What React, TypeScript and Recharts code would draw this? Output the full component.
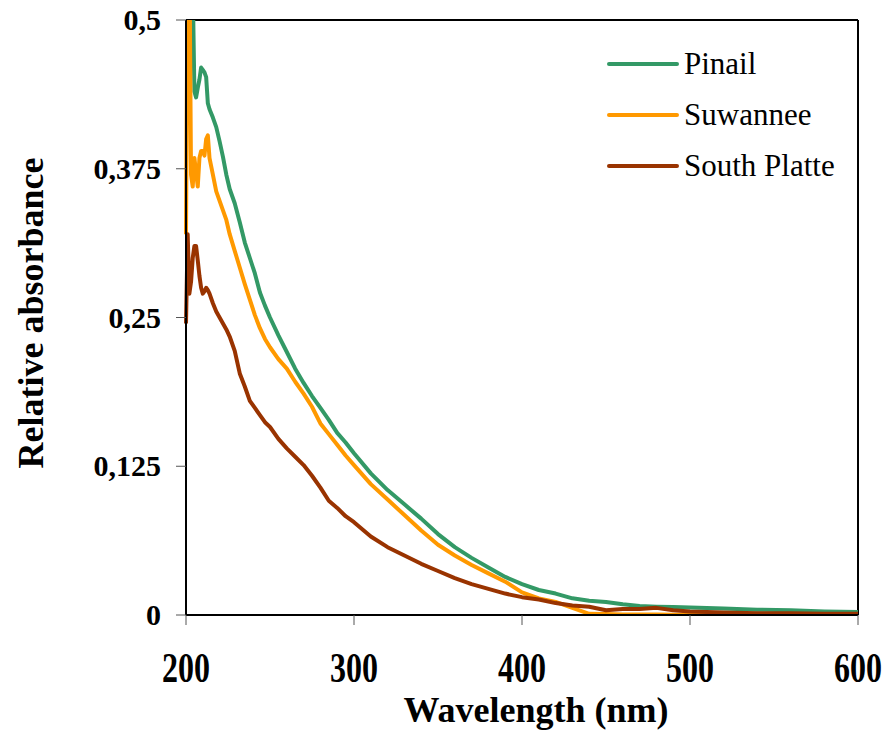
import { LineChart, Line, XAxis, YAxis, ReferenceLine } from 'recharts';

const wavelengths = [
  200, 201, 202, 203, 204, 205, 206, 207, 208, 209, 210, 211, 212, 213, 214, 216, 218, 220, 222, 224, 226, 229,
  232, 235, 238, 241, 244, 247, 250, 255, 260, 265, 270, 275, 280, 285, 290, 295, 300, 310, 320, 330, 340, 350,
  360, 370, 380, 390, 400, 410, 420, 430, 440, 450, 460, 470, 480, 490, 500, 520, 540, 560, 580, 600,
];

const pinail = [
  0.56, 0.56, 0.55, 0.55, 0.53, 0.44, 0.435, 0.443, 0.45, 0.46, 0.458, 0.456, 0.452, 0.43, 0.425, 0.418, 0.41, 0.398,
  0.385, 0.37, 0.358, 0.346, 0.33, 0.313, 0.3, 0.287, 0.271, 0.26, 0.25, 0.235, 0.221, 0.207, 0.195, 0.184, 0.174,
  0.164, 0.153, 0.145, 0.136, 0.119, 0.105, 0.093, 0.081, 0.068, 0.057, 0.048, 0.04, 0.032, 0.026, 0.021, 0.018,
  0.014, 0.012, 0.011, 0.009, 0.0076, 0.007, 0.0067, 0.0063, 0.0055, 0.0045, 0.004, 0.003, 0.0025,
];

const suwannee = [
  0.32, 0.56, 0.56, 0.37, 0.36, 0.384, 0.372, 0.36, 0.384, 0.39, 0.39, 0.386, 0.4, 0.403, 0.384, 0.37, 0.356, 0.348,
  0.34, 0.332, 0.32, 0.306, 0.292, 0.278, 0.265, 0.252, 0.241, 0.232, 0.225, 0.215, 0.207, 0.196, 0.186, 0.175, 0.161,
  0.152, 0.143, 0.134, 0.126, 0.11, 0.097, 0.084, 0.071, 0.059, 0.05, 0.042, 0.035, 0.028, 0.019, 0.014, 0.011, 0.006,
  0.001, 0.0008, 0.0005, 0.0005, 0.0004, 0.0003, 0.0003, 0.0002, 0.0002, 0.0002, 0.0001, 0.0001,
];

const southPlatte = [
  0.245, 0.32, 0.27, 0.28, 0.3, 0.31, 0.31, 0.298, 0.285, 0.275, 0.27, 0.272, 0.275, 0.273, 0.27, 0.262, 0.255, 0.25,
  0.245, 0.24, 0.234, 0.222, 0.203, 0.192, 0.18, 0.174, 0.168, 0.162, 0.158, 0.148, 0.14, 0.133, 0.126, 0.117, 0.107,
  0.096, 0.09, 0.083, 0.078, 0.066, 0.057, 0.05, 0.043, 0.037, 0.031, 0.026, 0.022, 0.018, 0.015, 0.013, 0.01, 0.008,
  0.007, 0.004, 0.005, 0.005, 0.006, 0.004, 0.003, 0.002, 0.0015, 0.0015, 0.001, 0.001,
];

const xTicks = [200, 300, 400, 500, 600];
const yTicks = [0, 0.125, 0.25, 0.375, 0.5];

const seriesInfo = [
  { key: 'pinail', name: 'Pinail', color: '#339966' },
  { key: 'suwannee', name: 'Suwannee', color: '#FF9900' },
  { key: 'southPlatte', name: 'South Platte', color: '#993300' },
];

const data = wavelengths.map((w, i) => ({
  w,
  pinail: pinail[i],
  suwannee: suwannee[i],
  southPlatte: southPlatte[i],
}));

const serif = '"Liberation Serif", "Times New Roman", serif';

function XTick({ x, payload }: any) {
  return (
    <g transform={`translate(${x},682) scale(1,1.35)`}>
      <text x={0} y={0} textAnchor="middle" fontFamily={serif} fontWeight="bold" fontSize={32} fill="#000">
        {payload.value}
      </text>
    </g>
  );
}

function YTick({ y, payload }: any) {
  return (
    <text x={161} y={y} dy={10} textAnchor="end" fontFamily={serif} fontWeight="bold" fontSize={30} fill="#000">
      {String(payload.value).replace('.', ',')}
    </text>
  );
}

// legend drawn over the chart, Excel style
function LegendBox() {
  return (
    <svg width={270} height={150} style={{ position: 'absolute', left: 600, top: 40 }}>
      {seriesInfo.map((s, i) => (
        <g key={s.key}>
          <line x1={9} x2={77} y1={24 + i * 51} y2={24 + i * 51} stroke={s.color} strokeWidth={4} strokeLinecap="round" />
          <text x={84} y={34 + i * 51} fontFamily={serif} fontSize={31} fill="#000">
            {s.name}
          </text>
        </g>
      ))}
    </svg>
  );
}

export default function App() {
  return (
    <div style={{ position: 'absolute', left: 0, top: 0, width: 886, height: 734, background: '#fff' }}>
      <LineChart width={886} height={734} data={data} margin={{ top: 20, right: 28, bottom: 0, left: 0 }}>
        <XAxis
          dataKey="w"
          type="number"
          domain={[200, 600]}
          ticks={xTicks}
          height={119}
          tickSize={10}
          tick={<XTick />}
          axisLine={{ stroke: '#000', strokeWidth: 2 }}
          tickLine={{ stroke: '#555' }}
          label={{
            content: () => (
              <text x={536} y={722} textAnchor="middle" fontFamily={serif} fontWeight="bold" fontSize={36} fill="#000">
                Wavelength (nm)
              </text>
            ),
          }}
        />
        <YAxis
          type="number"
          domain={[0, 0.5]}
          ticks={yTicks}
          allowDataOverflow
          width={186}
          tickSize={10}
          tick={<YTick />}
          axisLine={{ stroke: '#000', strokeWidth: 2 }}
          tickLine={{ stroke: '#555' }}
          label={{
            content: () => (
              <text
                transform="translate(43,313) rotate(-90)"
                textAnchor="middle"
                fontFamily={serif}
                fontWeight="bold"
                fontSize={36}
                fill="#000"
              >
                Relative absorbance
              </text>
            ),
          }}
        />
        <ReferenceLine y={0.5} stroke="#000" strokeWidth={2} />
        <ReferenceLine x={600} stroke="#000" strokeWidth={2} />
        {seriesInfo.map((s) => (
          <Line
            key={s.key}
            type="linear"
            dataKey={s.key}
            name={s.name}
            stroke={s.color}
            strokeWidth={4}
            strokeLinejoin="round"
            dot={false}
            activeDot={false}
            isAnimationActive={false}
          />
        ))}
      </LineChart>
      <LegendBox />
    </div>
  );
}
